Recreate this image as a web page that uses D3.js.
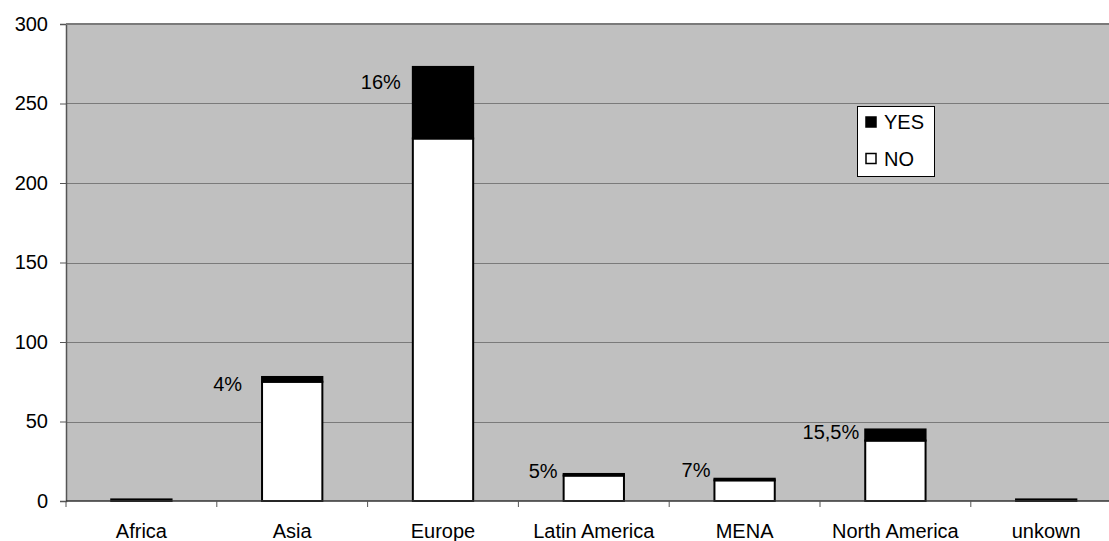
<!DOCTYPE html>
<html>
<head>
<meta charset="utf-8">
<script src="https://cdn.jsdelivr.net/npm/d3@7"></script>
<style>
  html, body { margin: 0; padding: 0; background: #fff; }
  svg { display: block; font-family: "Liberation Sans", Arial, sans-serif; }
</style>
</head>
<body>
<svg id="chart" width="1109" height="541"></svg>
<script>
// Regions and counts per answer
const regions = ["Africa", "Asia", "Europe", "Latin America", "MENA", "North America", "unkown"];
const noValues  = [1, 75, 228, 16, 13, 38, 1];
const yesValues = [0, 3, 45, 1, 1, 7, 0];
// Share of YES, as written next to the bars
const shareLabels = ["", "4%", "16%", "5%", "7%", "15,5%", ""];
const yTicks = [0, 50, 100, 150, 200, 250, 300];
const seriesNames = ["YES", "NO"];

const svg = d3.select("#chart");
const plot = { left: 66, top: 24, bottom: 501, right: 66 + 7 * 150.8 };

const x = d3.scaleBand().domain(regions)
  .range([plot.left, plot.right]).paddingInner(0.6).paddingOuter(0.3);
const y = d3.scaleLinear().domain([0, 300]).range([plot.bottom, plot.top]);

// plot background
svg.append("rect")
  .attr("x", plot.left).attr("y", plot.top)
  .attr("width", plot.right - plot.left).attr("height", plot.bottom - plot.top)
  .attr("fill", "#c0c0c0");

// horizontal grid lines
svg.append("g").selectAll("line").data(yTicks.filter(d => d > 0)).join("line")
  .attr("x1", plot.left).attr("x2", plot.right)
  .attr("y1", d => Math.round(y(d)) + 0.5).attr("y2", d => Math.round(y(d)) + 0.5)
  .attr("stroke", "#7a7a7a").attr("stroke-width", 1.2);

// y axis
const yAxis = svg.append("g")
  .attr("transform", `translate(${plot.left},0)`)
  .call(d3.axisLeft(y).tickValues(yTicks).tickSize(6).tickPadding(12));
yAxis.select(".domain").attr("stroke", "#555").attr("stroke-width", 1.5);
yAxis.selectAll(".tick line").attr("stroke", "#555");
yAxis.selectAll("text").attr("font-size", 20).attr("fill", "#000")
  .attr("font-family", "Liberation Sans, Arial, sans-serif");

// stacked bars: NO at the bottom, YES on top
const bars = svg.append("g");
regions.forEach((r, i) => {
  const x0 = x(r), w = x.bandwidth();
  const yNo = y(noValues[i]);
  const yTot = y(noValues[i] + yesValues[i]);
  bars.append("rect")
    .attr("x", x0).attr("y", yNo)
    .attr("width", w).attr("height", y(0) - yNo)
    .attr("fill", "#fff").attr("stroke", "#000").attr("stroke-width", 2);
  if (yesValues[i] > 0) {
    bars.append("rect")
      .attr("x", x0).attr("y", yTot)
      .attr("width", w).attr("height", yNo - yTot)
      .attr("fill", "#000").attr("stroke", "#000").attr("stroke-width", 2);
  }
});

// x axis line and category boundary ticks
svg.append("line")
  .attr("x1", plot.left).attr("x2", plot.right)
  .attr("y1", plot.bottom).attr("y2", plot.bottom)
  .attr("stroke", "#333").attr("stroke-width", 1.5);
const step = x.step();
svg.append("g").selectAll("line").data(d3.range(0, regions.length + 1)).join("line")
  .attr("x1", d => plot.left + d * step).attr("x2", d => plot.left + d * step)
  .attr("y1", plot.bottom).attr("y2", plot.bottom + 6)
  .attr("stroke", "#555").attr("stroke-width", 1);
svg.append("g").selectAll("text").data(regions).join("text")
  .attr("x", d => x(d) + x.bandwidth() / 2).attr("y", 538)
  .attr("text-anchor", "middle").attr("font-size", 20).text(d => d);

// plot frame top edge
svg.append("line")
  .attr("x1", plot.left).attr("x2", plot.right)
  .attr("y1", plot.top).attr("y2", plot.top)
  .attr("stroke", "#7a7a7a").attr("stroke-width", 2);

// share labels, set just left of the bars' tops
const labelGap = [0, 20, 12, 6, 4, 6, 0];
const labelDy  = [0, 7.5, 15.5, -2.5, -8.7, 2.5, 0];
svg.append("g").selectAll("text").data(regions).join("text")
  .attr("x", (d, i) => x(d) - labelGap[i])
  .attr("y", (d, i) => y(noValues[i] + yesValues[i]) + labelDy[i])
  .attr("dy", "0.35em").attr("text-anchor", "end").attr("font-size", 20)
  .text((d, i) => shareLabels[i]);

// legend
const lg = svg.append("g");
lg.append("rect").attr("x", 857.5).attr("y", 106.5).attr("width", 77).attr("height", 70)
  .attr("fill", "#fff").attr("stroke", "#000").attr("stroke-width", 1);
seriesNames.forEach((s, i) => {
  const cy = 122 + i * 36.5;
  lg.append("rect").attr("x", 866).attr("y", cy - 5).attr("width", 10).attr("height", 10)
    .attr("fill", s === "YES" ? "#000" : "#fff").attr("stroke", "#000").attr("stroke-width", 1.5);
  lg.append("text").attr("x", 884).attr("y", cy).attr("dy", "0.35em")
    .attr("font-size", 20).text(s);
});
</script>
</body>
</html>
